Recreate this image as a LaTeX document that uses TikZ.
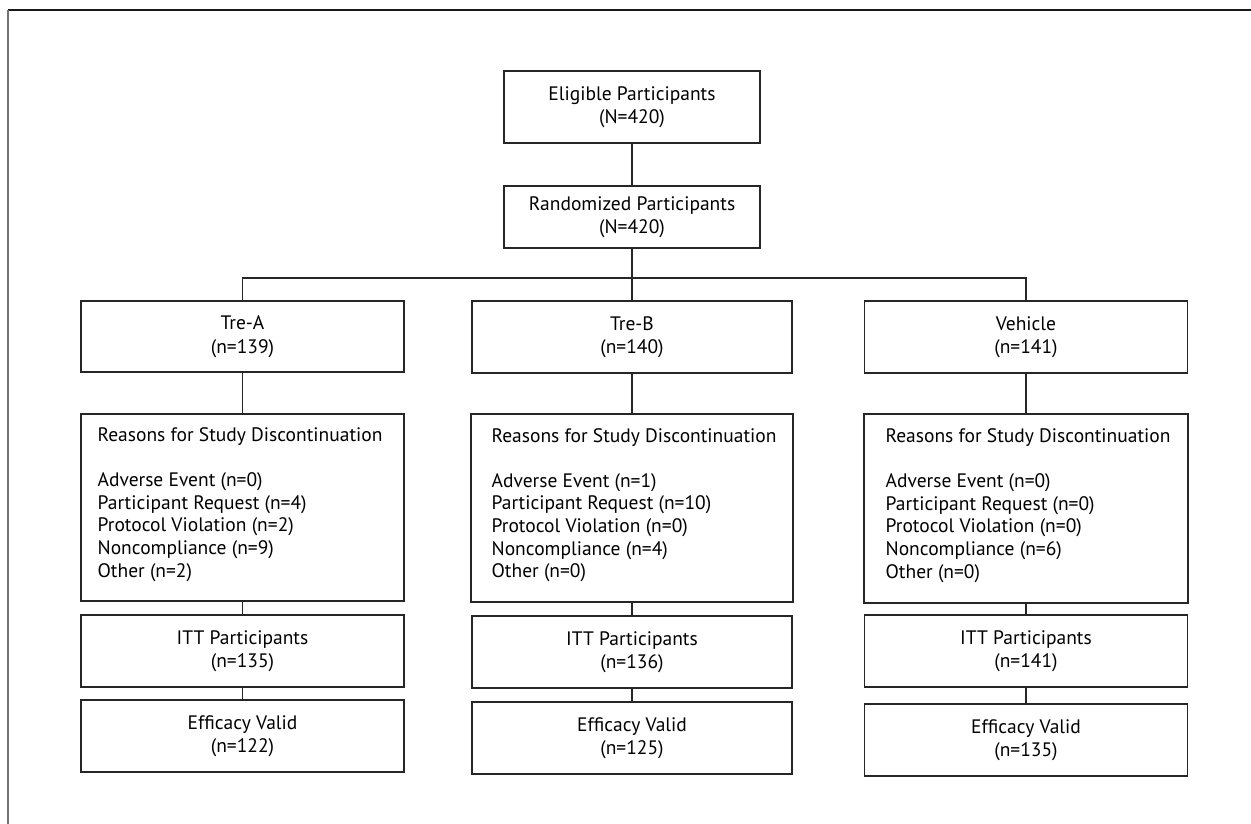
\documentclass[tikz,border=0pt]{standalone}
\usepackage{fontspec}
\setmainfont{PT Sans}
\begin{document}
\begin{tikzpicture}[x=1pt,y=-1pt,
  font=\fontsize{19.5pt}{23.5pt}\selectfont,
  box/.style={draw=black!85, line width=1.1pt, align=center, inner sep=0pt},
  listtext/.style={align=left, inner sep=0pt, anchor=west, font=\fontsize{19.5pt}{22.6pt}\selectfont},
  conn/.style={draw=black!85, line width=1.1pt}]
\useasboundingbox (0,0) rectangle (1251,824);
% frame
\draw[black!90, line width=1.4pt] (8,10) -- (1251,10);
\draw[black!55, line width=2pt] (8,10) -- (8,824);

\node[box, minimum width=256pt, minimum height=72pt] (elig) at (632,107) {Eligible Participants\\(N=420)};
\node[box, minimum width=256pt, minimum height=62pt] (rand) at (632,217) {Randomized Participants\\(N=420)};

\node[box, minimum width=323pt, minimum height=71pt] (trea) at (242.5,336.5) {Tre-A\\(n=139)};
\node[box, minimum width=320pt, minimum height=72pt] (treb) at (632,337) {Tre-B\\(n=140)};
\node[box, minimum width=323pt, minimum height=72pt] (veh) at (1026,337) {Vehicle\\(n=141)};

\node[box, minimum width=323pt, minimum height=187pt] (ra) at (242.5,507.5) {};
\node[box, minimum width=322pt, minimum height=188pt] (rb) at (632,508) {};
\node[box, minimum width=324pt, minimum height=189pt] (rv) at (1026,508.5) {};

\node[listtext] (rat) at ([xshift=17pt,yshift=3pt]ra.west) {Reasons for Study Discontinuation\\[22.6pt]Adverse Event (n=0)\\Participant Request (n=4)\\Protocol Violation (n=2)\\Noncompliance (n=9)\\Other (n=2)};
\node[listtext] (rbt) at ([xshift=21pt,yshift=3pt]rb.west) {Reasons for Study Discontinuation\\[22.6pt]Adverse Event (n=1)\\Participant Request (n=10)\\Protocol Violation (n=0)\\Noncompliance (n=4)\\Other (n=0)};
\node[listtext] (rvt) at ([xshift=22pt,yshift=3pt]rv.west) {Reasons for Study Discontinuation\\[22.6pt]Adverse Event (n=0)\\Participant Request (n=0)\\Protocol Violation (n=0)\\Noncompliance (n=6)\\Other (n=0)};

\node[box, minimum width=323pt, minimum height=72pt] (itta) at (242.5,651) {ITT Participants\\(n=135)};
\node[box, minimum width=320pt, minimum height=72pt] (ittb) at (632,652) {ITT Participants\\(n=136)};
\node[box, minimum width=323pt, minimum height=72pt] (ittv) at (1026,651) {ITT Participants\\(n=141)};

\node[box, minimum width=323pt, minimum height=72pt] (effa) at (242.5,736) {Efficacy Valid\\(n=122)};
\node[box, minimum width=320pt, minimum height=72pt] (effb) at (632,738) {Efficacy Valid\\(n=125)};
\node[box, minimum width=323pt, minimum height=72pt] (effv) at (1026,740) {Efficacy Valid\\(n=135)};

\coordinate (j) at (632,278);
\path[conn] (elig.south) -- (rand.north);
\path[conn] (rand.south) -- (j);
\path[conn] (trea.north) |- (j) -| (veh.north);
\path[conn] (j) -- (treb.north);

\foreach \a/\b in {trea/ra, treb/rb, veh/rv, ra/itta, rb/ittb, rv/ittv, itta/effa, ittb/effb, ittv/effv}
  \path[conn] (\a.south) -- (\b.north);
\end{tikzpicture}
\end{document}
